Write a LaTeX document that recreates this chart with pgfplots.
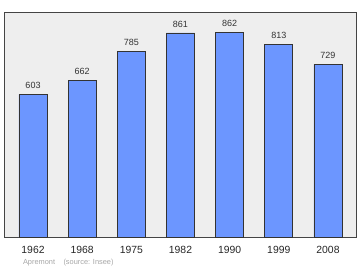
\documentclass[border=0pt]{standalone}
\usepackage{pgfplots}
\pgfplotsset{compat=1.18}
\usepackage{fontspec}
\setmainfont{Liberation Sans}
\definecolor{barfill}{HTML}{6C96FF}
\definecolor{bgfill}{HTML}{EEEEEE}
\definecolor{frame}{HTML}{444444}
\begin{document}
\begin{tikzpicture}[x=1pt,y=1pt]
\useasboundingbox (0,0) rectangle (360,270);
\begin{axis}[
  at={(4pt,32.3pt)}, anchor=south west,
  scale only axis, width=352pt, height=225.7pt,
  xmin=-0.59, xmax=6.57, ymin=0, ymax=949,
  axis background/.style={fill=bgfill},
  axis line style={frame, line width=0.9pt},
  ybar, bar width=0.57,
  xtick=data, xticklabels={1962,1968,1975,1982,1990,1999,2008},
  ytick=\empty, major tick length=0pt,
  xticklabel style={font=\fontsize{10.4}{11}\selectfont, text=black!85, yshift=-5pt},
  nodes near coords,
  nodes near coords style={font=\fontsize{9}{10}\selectfont, text=black!80, yshift=2pt},
  /pgf/number format/assume math mode=true,
]
\addplot[fill=barfill, draw=black!80, line width=0.7pt] coordinates {
(0,603) (1,662) (2,785) (3,861) (4,862) (5,813) (6,729)};
\end{axis}
\node[anchor=west, text=black!35, font=\fontsize{7.4}{8}\selectfont] at (19.5,7.5) {Apremont\hspace{8.4pt}(source: Insee)};
\end{tikzpicture}
\end{document}
